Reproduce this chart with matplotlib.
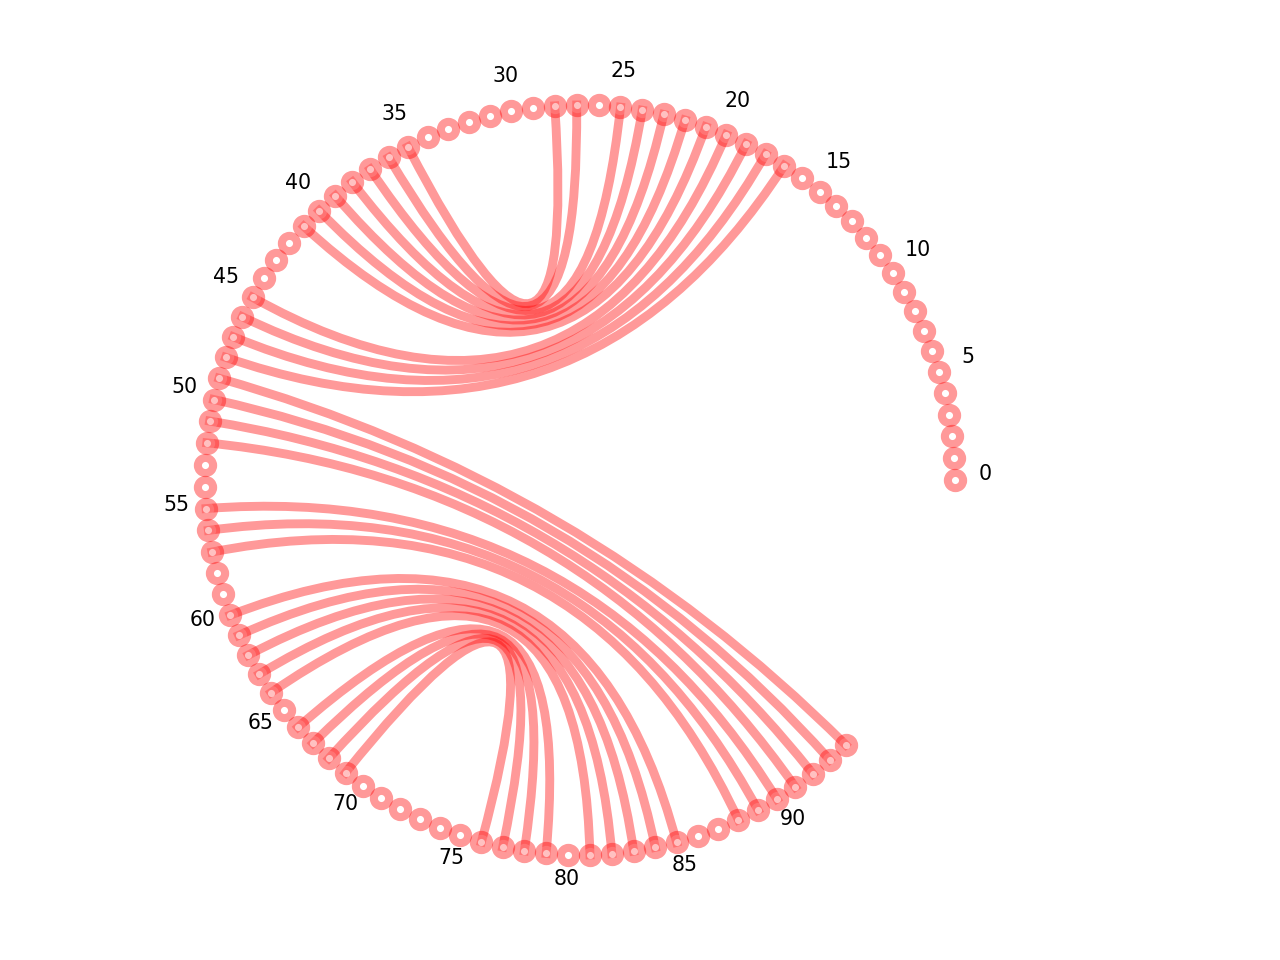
import numpy as np
import matplotlib
matplotlib.use("Agg")
import matplotlib.pyplot as plt
from matplotlib.path import Path
from matplotlib.patches import PathPatch

# ---- data ----
n_nodes = 95
node_ids = list(range(n_nodes))
label_ids = list(range(0, n_nodes, 5))
edges_upper = [(28, 35), (27, 36), (25, 37), (24, 38), (23, 39), (22, 40),
               (21, 41), (20, 45), (19, 46), (18, 47), (17, 48)]
edges_lower = [(69, 76), (68, 77), (67, 78), (66, 79), (64, 81), (63, 82),
               (62, 83), (61, 84), (60, 85), (57, 88), (56, 89), (55, 90),
               (52, 91), (51, 92), (50, 93), (49, 94)]
edges = edges_upper + edges_lower

# ---- layout ----
step = np.deg2rad(315.1 / 94)
theta = np.array(node_ids) * step
xs = np.cos(theta)
ys = np.sin(theta)

fig = plt.figure(figsize=(12.8, 9.6), dpi=100)
ax = fig.add_axes([0, 0, 1, 1])
R = 375.0
ax.set_xlim(-580 / R, 700 / R)
ax.set_ylim(-480 / R, 480 / R)
ax.axis("off")

col = "red"
for a, b in edges:
    verts = [(xs[a], ys[a]), (0.0, 0.0), (xs[b], ys[b])]
    path = Path(verts, [Path.MOVETO, Path.CURVE3, Path.CURVE3])
    patch = PathPatch(path, facecolor="none", edgecolor=col, alpha=0.4,
                      lw=6.4, capstyle="projecting", zorder=1)
    ax.add_patch(patch)

ax.plot(xs, ys, linestyle="none", marker="o", ms=11, mew=5.8,
        mec=col, mfc="white", alpha=0.4, zorder=2, clip_on=False)

for i in label_ids:
    ax.text(1.08 * np.cos(theta[i]), 1.08 * np.sin(theta[i]), str(i),
            ha="center", va="baseline", fontsize=14.8, color="black")

fig.savefig("out.png", dpi=100)
